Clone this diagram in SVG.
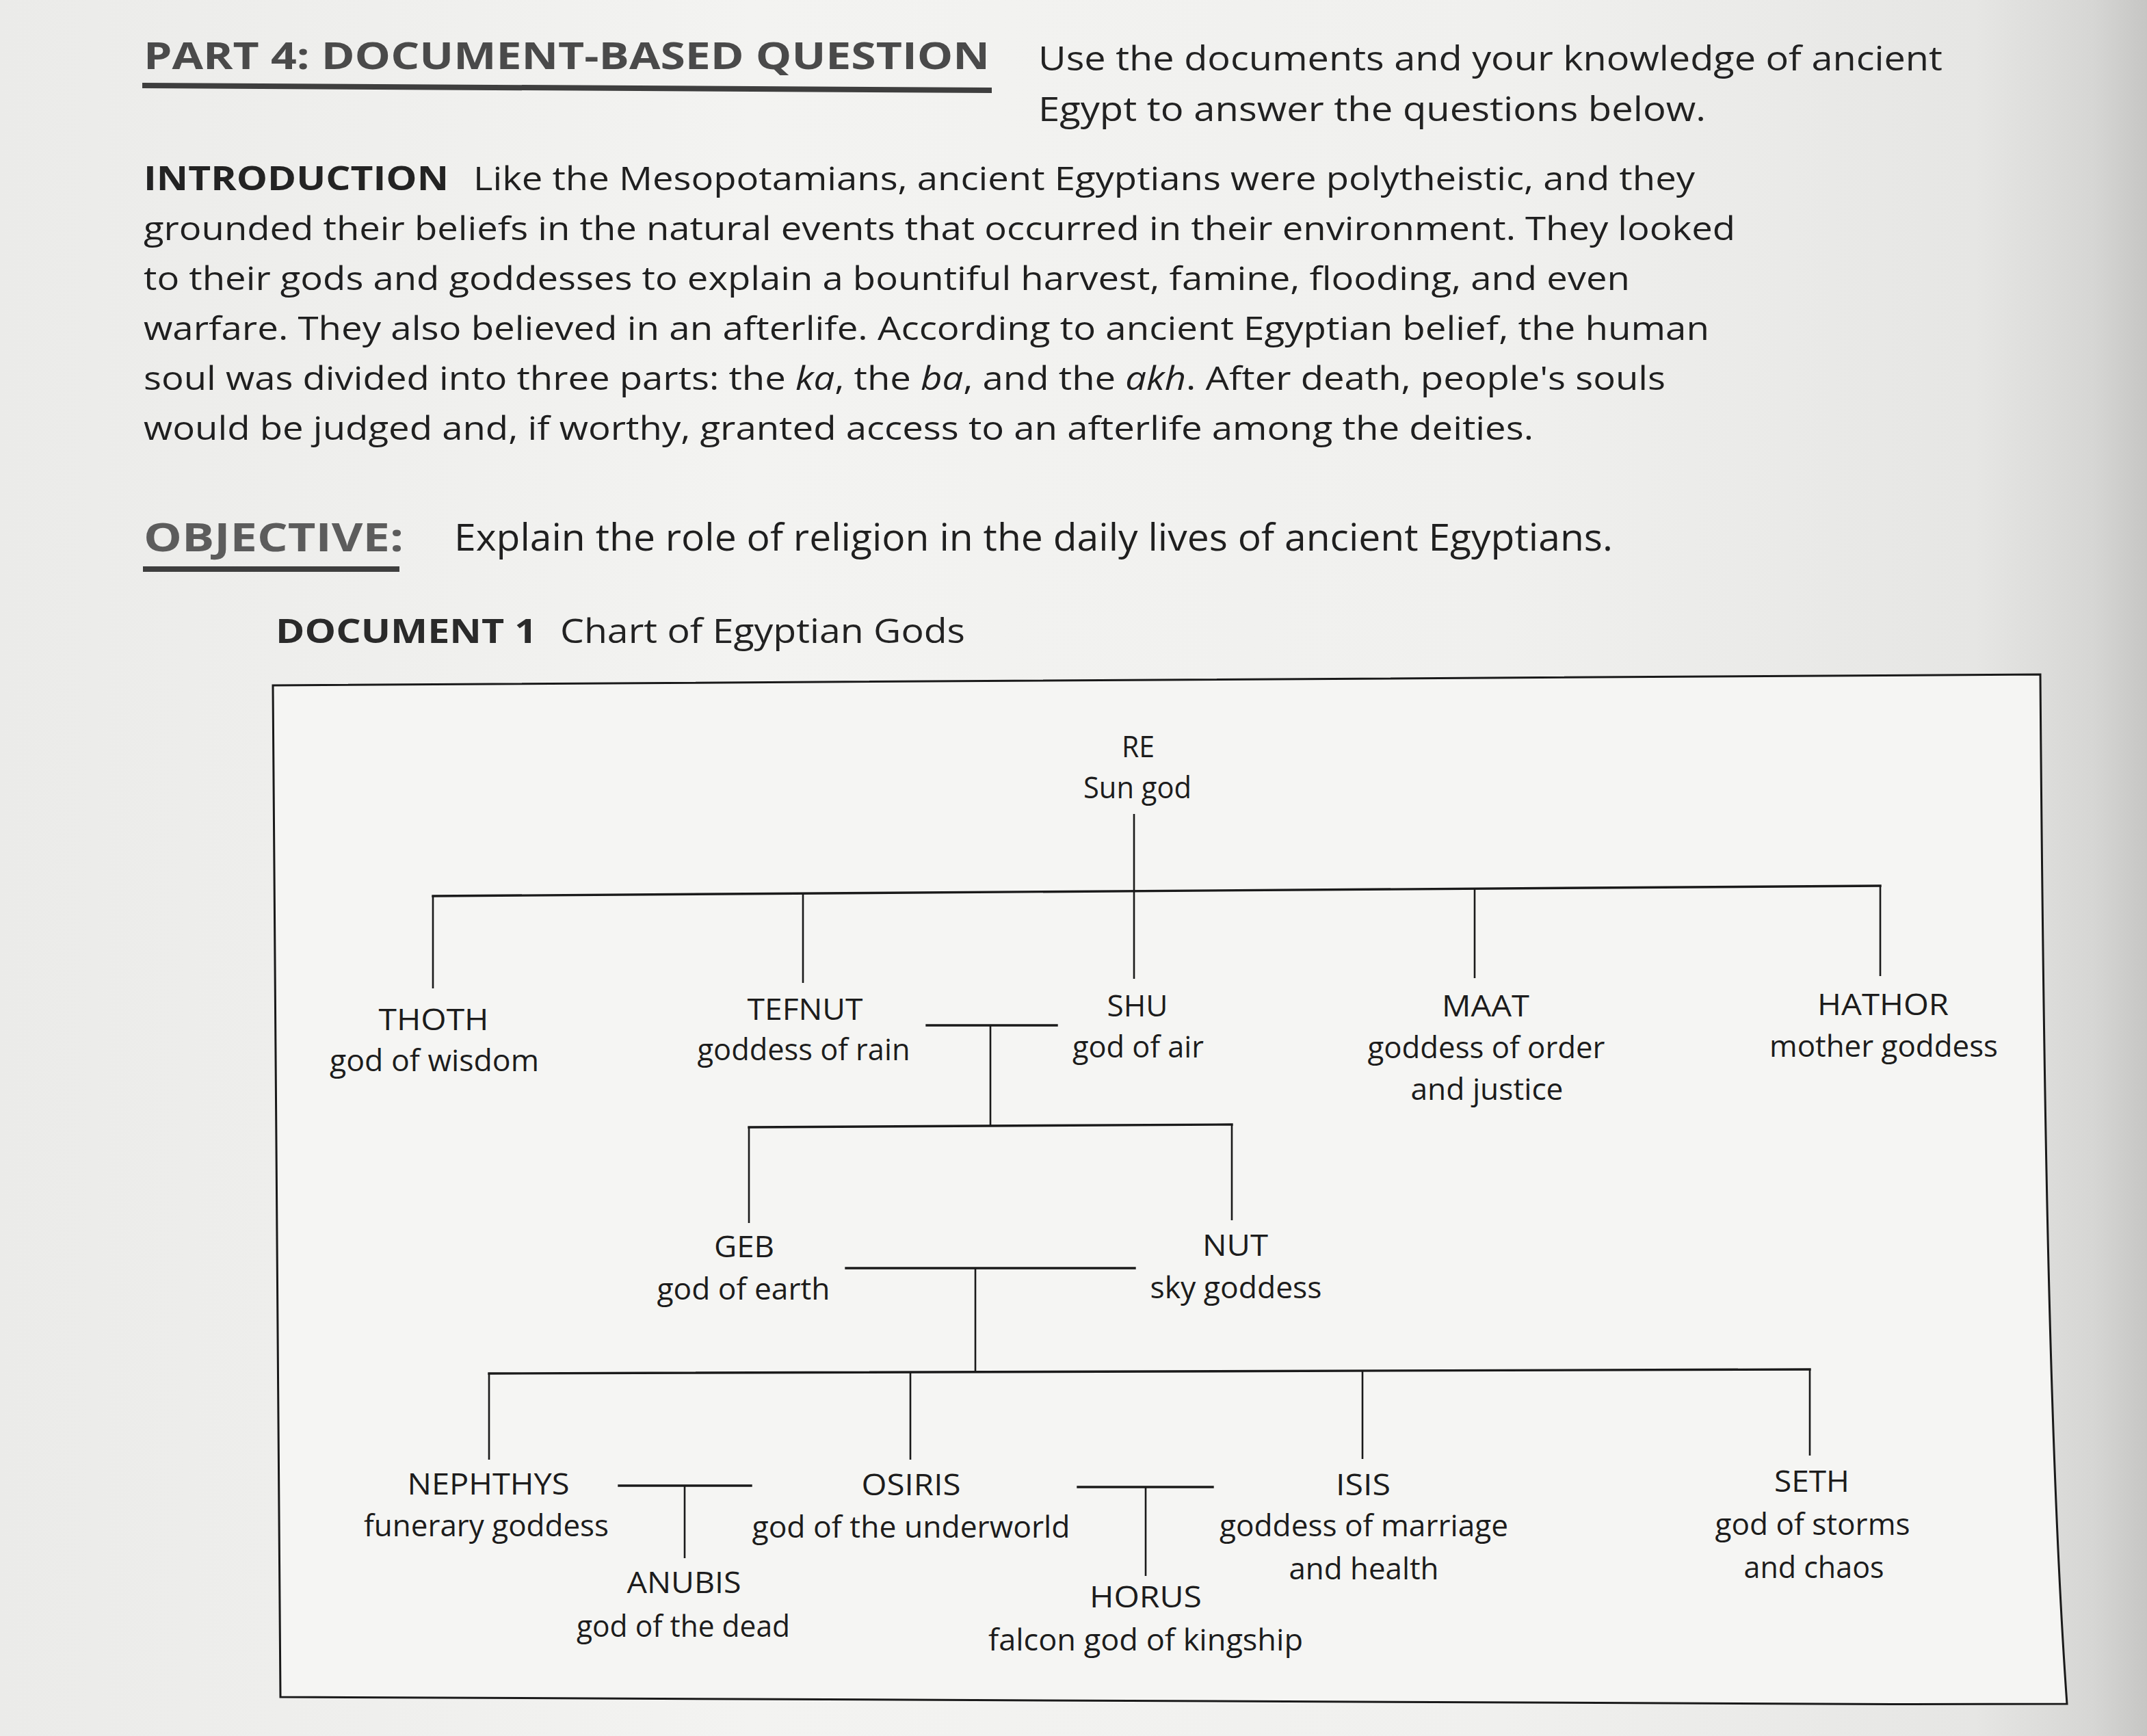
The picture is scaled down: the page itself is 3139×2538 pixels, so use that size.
<svg xmlns="http://www.w3.org/2000/svg" width="3139" height="2538" viewBox="0 0 3139 2538">
<defs>
<linearGradient id="paper" x1="0" y1="0" x2="1" y2="0">
<stop offset="0" stop-color="#ebebe9"/>
<stop offset="0.35" stop-color="#f3f3f1"/>
<stop offset="0.7" stop-color="#f0f0ee"/>
<stop offset="0.92" stop-color="#e6e6e4"/>
<stop offset="0.975" stop-color="#d6d6d4"/>
<stop offset="1" stop-color="#c6c6c4"/>
</linearGradient>
<style>
text{font-family:"Open Sans","Noto Sans","Liberation Sans",sans-serif;}
.hb{font-weight:700;font-size:54px;fill:#4a4a4a;}
.hr{font-size:50px;fill:#222;}
.body{font-size:48px;fill:#1f1f1f;}
.ib{font-weight:700;font-size:48px;fill:#232323;}
.ob{font-weight:700;font-size:57px;fill:#5c5c5c;}
.or{font-size:55px;fill:#1f1f1f;}
.db{font-weight:700;font-size:49px;fill:#2a2a2a;}
.dr{font-size:50px;fill:#222;}
.lbl{font-size:44px;fill:#1c1c1c;text-anchor:middle;}
.bar{stroke:#1a1a1a;stroke-width:3.4;fill:none;stroke-linecap:square;}
.vl{stroke:#1a1a1a;stroke-width:2.6;fill:none;}
.box{stroke:#1a1a1a;stroke-width:3;fill:#f5f5f3;}
.rule{stroke:#3e3e3e;stroke-width:8;fill:none;}
</style>
</defs>
<rect x="0" y="0" width="3139" height="2538" fill="url(#paper)"/>

<g id="header">
<text class="hb" x="210" y="101" textLength="1237" lengthAdjust="spacingAndGlyphs">PART 4: DOCUMENT-BASED QUESTION</text>
<path class="rule" d="M208,125 L1450,132"/>
<text class="hr" x="1518" y="103" textLength="1322" lengthAdjust="spacingAndGlyphs">Use the documents and your knowledge of ancient</text>
<text class="hr" x="1518" y="177" textLength="976" lengthAdjust="spacingAndGlyphs">Egypt to answer the questions below.</text>
</g>

<g id="introduction">
<text class="ib" x="210" y="278" textLength="446" lengthAdjust="spacingAndGlyphs">INTRODUCTION</text>
<text class="body" x="692" y="278" textLength="1786" lengthAdjust="spacingAndGlyphs">Like the Mesopotamians, ancient Egyptians were polytheistic, and they</text>
<text class="body" x="210" y="351" textLength="2327" lengthAdjust="spacingAndGlyphs">grounded their beliefs in the natural events that occurred in their environment. They looked</text>
<text class="body" x="210" y="424" textLength="2173" lengthAdjust="spacingAndGlyphs">to their gods and goddesses to explain a bountiful harvest, famine, flooding, and even</text>
<text class="body" x="210" y="497" textLength="2289" lengthAdjust="spacingAndGlyphs">warfare. They also believed in an afterlife. According to ancient Egyptian belief, the human</text>
<text class="body" x="210" y="570" textLength="2225" lengthAdjust="spacingAndGlyphs">soul was divided into three parts: the <tspan font-style="italic">ka</tspan>, the <tspan font-style="italic">ba</tspan>, and the <tspan font-style="italic">akh</tspan>. After death, people's souls</text>
<text class="body" x="210" y="643" textLength="2032" lengthAdjust="spacingAndGlyphs">would be judged and, if worthy, granted access to an afterlife among the deities.</text>
</g>

<g id="objective">
<text class="ob" x="210" y="806" textLength="380" lengthAdjust="spacingAndGlyphs">OBJECTIVE:</text>
<path class="rule" d="M209,832 L584,832" stroke="#555"/>
<text class="or" x="664" y="805" textLength="1694" lengthAdjust="spacingAndGlyphs">Explain the role of religion in the daily lives of ancient Egyptians.</text>
</g>

<g id="document-title">
<text class="db" x="403" y="940" textLength="382" lengthAdjust="spacingAndGlyphs">DOCUMENT 1</text>
<text class="dr" x="819" y="940" textLength="592" lengthAdjust="spacingAndGlyphs">Chart of Egyptian Gods</text>
</g>

<path id="chart-frame" class="box" d="M399,1002 L2983,986 C2987,1500 2994,2100 3022,2491 C2200,2493 1400,2490 410,2481 Z"/>

<g id="connectors">
<!-- Re's children -->
<path class="vl" d="M1658,1190 L1658,1431"/>
<path class="bar" d="M633,1310 L2749,1295"/>
<path class="vl" d="M633,1310 L633,1445"/>
<path class="vl" d="M1174,1306 L1174,1437"/>
<path class="vl" d="M2156,1299 L2156,1430"/>
<path class="vl" d="M2749,1295 L2749,1427"/>
<!-- Tefnut + Shu -->
<path class="bar" d="M1355,1499 L1545,1499"/>
<path class="vl" d="M1448,1499 L1448,1646"/>
<path class="bar" d="M1095,1648 L1801,1644"/>
<path class="vl" d="M1095,1648 L1095,1788"/>
<path class="vl" d="M1801,1644 L1801,1784"/>
<!-- Geb + Nut -->
<path class="bar" d="M1237,1854 L1659,1854"/>
<path class="vl" d="M1426,1854 L1426,2006"/>
<path class="bar" d="M715,2008 L2646,2002"/>
<path class="vl" d="M715,2008 L715,2134"/>
<path class="vl" d="M1331,2006 L1331,2134"/>
<path class="vl" d="M1992,2004 L1992,2133"/>
<path class="vl" d="M2646,2002 L2646,2128"/>
<!-- Nephthys + Osiris -->
<path class="bar" d="M905,2172 L1098,2172"/>
<path class="vl" d="M1001,2172 L1001,2278"/>
<!-- Osiris + Isis -->
<path class="bar" d="M1576,2174 L1773,2174"/>
<path class="vl" d="M1675,2174 L1675,2304"/>
</g>

<g id="node-re">
<text class="lbl" x="1664" y="1107" textLength="48" lengthAdjust="spacingAndGlyphs">RE</text>
<text class="lbl" x="1663" y="1167" textLength="158" lengthAdjust="spacingAndGlyphs">Sun god</text>
</g>
<g id="node-thoth">
<text class="lbl" x="634" y="1506" textLength="161" lengthAdjust="spacingAndGlyphs">THOTH</text>
<text class="lbl" x="635" y="1566" textLength="306" lengthAdjust="spacingAndGlyphs">god of wisdom</text>
</g>
<g id="node-tefnut">
<text class="lbl" x="1177" y="1491" textLength="169" lengthAdjust="spacingAndGlyphs">TEFNUT</text>
<text class="lbl" x="1175" y="1550" textLength="311" lengthAdjust="spacingAndGlyphs">goddess of rain</text>
</g>
<g id="node-shu">
<text class="lbl" x="1663" y="1486" textLength="89" lengthAdjust="spacingAndGlyphs">SHU</text>
<text class="lbl" x="1664" y="1546" textLength="192" lengthAdjust="spacingAndGlyphs">god of air</text>
</g>
<g id="node-maat">
<text class="lbl" x="2172" y="1486" textLength="128" lengthAdjust="spacingAndGlyphs">MAAT</text>
<text class="lbl" x="2173" y="1547" textLength="347" lengthAdjust="spacingAndGlyphs">goddess of order</text>
<text class="lbl" x="2174" y="1608" textLength="223" lengthAdjust="spacingAndGlyphs">and justice</text>
</g>
<g id="node-hathor">
<text class="lbl" x="2753" y="1484" textLength="192" lengthAdjust="spacingAndGlyphs">HATHOR</text>
<text class="lbl" x="2754" y="1545" textLength="334" lengthAdjust="spacingAndGlyphs">mother goddess</text>
</g>
<g id="node-geb">
<text class="lbl" x="1088" y="1838" textLength="88" lengthAdjust="spacingAndGlyphs">GEB</text>
<text class="lbl" x="1087" y="1900" textLength="253" lengthAdjust="spacingAndGlyphs">god of earth</text>
</g>
<g id="node-nut">
<text class="lbl" x="1806" y="1836" textLength="96" lengthAdjust="spacingAndGlyphs">NUT</text>
<text class="lbl" x="1807" y="1898" textLength="251" lengthAdjust="spacingAndGlyphs">sky goddess</text>
</g>
<g id="node-nephthys">
<text class="lbl" x="714" y="2185" textLength="237" lengthAdjust="spacingAndGlyphs">NEPHTHYS</text>
<text class="lbl" x="711" y="2246" textLength="358" lengthAdjust="spacingAndGlyphs">funerary goddess</text>
</g>
<g id="node-osiris">
<text class="lbl" x="1332" y="2186" textLength="145" lengthAdjust="spacingAndGlyphs">OSIRIS</text>
<text class="lbl" x="1332" y="2248" textLength="465" lengthAdjust="spacingAndGlyphs">god of the underworld</text>
</g>
<g id="node-isis">
<text class="lbl" x="1993" y="2186" textLength="80" lengthAdjust="spacingAndGlyphs">ISIS</text>
<text class="lbl" x="1994" y="2246" textLength="422" lengthAdjust="spacingAndGlyphs">goddess of marriage</text>
<text class="lbl" x="1994" y="2309" textLength="219" lengthAdjust="spacingAndGlyphs">and health</text>
</g>
<g id="node-seth">
<text class="lbl" x="2649" y="2181" textLength="110" lengthAdjust="spacingAndGlyphs">SETH</text>
<text class="lbl" x="2650" y="2244" textLength="285" lengthAdjust="spacingAndGlyphs">god of storms</text>
<text class="lbl" x="2652" y="2307" textLength="205" lengthAdjust="spacingAndGlyphs">and chaos</text>
</g>
<g id="node-anubis">
<text class="lbl" x="1000" y="2329" textLength="167" lengthAdjust="spacingAndGlyphs">ANUBIS</text>
<text class="lbl" x="999" y="2393" textLength="312" lengthAdjust="spacingAndGlyphs">god of the dead</text>
</g>
<g id="node-horus">
<text class="lbl" x="1675" y="2350" textLength="164" lengthAdjust="spacingAndGlyphs">HORUS</text>
<text class="lbl" x="1675" y="2413" textLength="460" lengthAdjust="spacingAndGlyphs">falcon god of kingship</text>
</g>
</svg>
